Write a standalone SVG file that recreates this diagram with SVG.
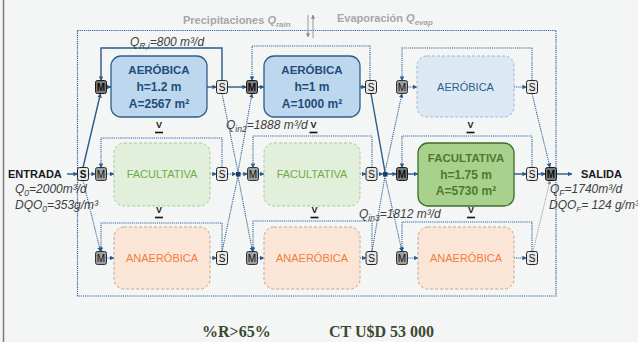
<svg xmlns="http://www.w3.org/2000/svg" width="638" height="342" viewBox="0 0 638 342">
<defs>
<marker id="a" viewBox="0 0 6 6" refX="5.5" refY="3" markerWidth="4.5" markerHeight="4.5" markerUnits="userSpaceOnUse" orient="auto"><path d="M0,0L6,3L0,6z" fill="#2a5a88"/></marker>
<marker id="g" viewBox="0 0 6 6" refX="5.5" refY="3" markerWidth="4" markerHeight="4" markerUnits="userSpaceOnUse" orient="auto"><path d="M0,0L6,3L0,6z" fill="#888"/></marker>
</defs>
<style>
text{font-family:"Liberation Sans",Arial,sans-serif}
.ser{font-family:"Liberation Serif","Times New Roman",serif;font-size:16px;font-weight:bold;fill:#3b4a2e}
.s{stroke:#2a5a88;stroke-width:1.4;fill:none}
.d{stroke:#36659a;stroke-width:1.1;stroke-dasharray:1.2 0.9;fill:none}
.gd{stroke:#999;stroke-width:1;stroke-dasharray:1.2 1;fill:none}
.aerA{fill:#bdd7ee;stroke:#2e5f8a;stroke-width:1.3}
.aerI{fill:#dde8f5;stroke:#9db8d5;stroke-width:1;stroke-dasharray:3 2}
.facA{fill:#a9d18e;stroke:#3d6b2a;stroke-width:1.3}
.facI{fill:#e2efda;stroke:#a9c99a;stroke-width:1;stroke-dasharray:3 2}
.ana{fill:#fbe5d6;stroke:#c9a48e;stroke-width:1;stroke-dasharray:3 2}
.tb{font-size:11.5px;font-weight:bold;text-anchor:middle}
.tb2{font-size:12px;font-weight:bold;text-anchor:middle}
.tn{font-size:11px;text-anchor:middle}
.mA{fill:#7a7a7a;stroke:#1a1a1a;stroke-width:1}
.mI{fill:#9e9e9e;stroke:#333;stroke-width:1}
.sb{fill:#e6e6e6;stroke:#262626;stroke-width:1}
.bt{font-size:10px;text-anchor:middle;fill:#111}
.mt{font-size:10px;font-weight:bold;text-anchor:middle;fill:#0d0d0d}
.lab{font-size:12px;font-style:italic;fill:#404040}
.v{font-size:9px;font-weight:bold;text-anchor:middle;fill:#222}
.ul{stroke:#111;stroke-width:1.6}
</style>
<rect x="0" y="0" width="638" height="342" fill="#f4f6f6"/>
<line x1="3.5" y1="0" x2="3.5" y2="342" stroke="#7a7a7a" stroke-width="1.5"/>
<rect x="77.5" y="30.5" width="478.5" height="265.5" fill="none" stroke="#36659a" stroke-width="1.2" stroke-dasharray="1.2 0.9"/>

<!-- top labels -->
<text x="183" y="24" font-size="11" font-weight="bold" fill="#a6a6a6">Precipitaciones <tspan font-style="italic">Q</tspan><tspan font-style="italic" font-size="8" dy="2.5">rain</tspan></text>
<text x="337" y="22" font-size="11" font-weight="bold" fill="#a6a6a6">Evaporación <tspan font-style="italic">Q</tspan><tspan font-style="italic" font-size="8" dy="2.5">evap</tspan></text>
<g id="rain-evap">
<line x1="308" y1="15" x2="308" y2="37" stroke="#999" stroke-width="1" marker-end="url(#g)"/>
<line x1="313" y1="38" x2="313" y2="15" stroke="#999" stroke-width="1" marker-end="url(#g)"/>
</g>

<!-- connectors -->
<g id="connectors">
<line class="s" x1="67" y1="174" x2="77.5" y2="174" marker-end="url(#a)"/>
<line class="s" x1="83" y1="167.5" x2="100.5" y2="93.5" marker-end="url(#a)"/>
<line class="s" x1="106.5" y1="87" x2="111" y2="87" marker-end="url(#a)"/>
<line class="s" x1="207" y1="87" x2="216.5" y2="87" marker-end="url(#a)"/>
<path class="s" d="M222,80.5V48H101V80.5" marker-end="url(#a)"/>
<line class="s" x1="227.5" y1="87" x2="246.5" y2="87" marker-end="url(#a)"/>
<line class="s" x1="257.5" y1="87" x2="264" y2="87" marker-end="url(#a)"/>
<line class="s" x1="360" y1="87" x2="365.5" y2="87" marker-end="url(#a)"/>
<line class="s" x1="371" y1="93.5" x2="385" y2="172"/>
<line class="s" x1="387" y1="174" x2="396.5" y2="174" marker-end="url(#a)"/>
<line class="s" x1="407.5" y1="174" x2="418" y2="174" marker-end="url(#a)"/>
<line class="s" x1="514" y1="174" x2="526.5" y2="174" marker-end="url(#a)"/>
<line class="s" x1="537.5" y1="174" x2="545.5" y2="174" marker-end="url(#a)"/>
<line class="s" x1="556.5" y1="174" x2="572" y2="174" marker-end="url(#a)"/>
<line class="d" x1="88.5" y1="174" x2="95.5" y2="174" marker-end="url(#a)"/>
<line class="d" x1="106.5" y1="174" x2="114" y2="174" marker-end="url(#a)"/>
<line class="d" x1="210" y1="174" x2="216.5" y2="174" marker-end="url(#a)"/>
<line class="d" x1="227.5" y1="174" x2="236" y2="174" marker-end="url(#a)"/>
<line class="d" x1="240" y1="174" x2="247.5" y2="174" marker-end="url(#a)"/>
<line class="d" x1="258.5" y1="174" x2="264" y2="174" marker-end="url(#a)"/>
<line class="d" x1="360" y1="174" x2="366" y2="174" marker-end="url(#a)"/>
<line class="d" x1="377" y1="174" x2="383" y2="174" marker-end="url(#a)"/>
<line class="d" x1="83" y1="180.5" x2="100.5" y2="251.5" marker-end="url(#a)"/>
<line class="d" x1="106.5" y1="258" x2="114" y2="258" marker-end="url(#a)"/>
<line class="d" x1="210" y1="258" x2="216.5" y2="258" marker-end="url(#a)"/>
<line class="d" x1="257.5" y1="258" x2="264" y2="258" marker-end="url(#a)"/>
<line class="d" x1="360" y1="258" x2="366" y2="258" marker-end="url(#a)"/>
<line class="d" x1="407.5" y1="258" x2="418" y2="258" marker-end="url(#a)"/>
<line class="d" x1="514" y1="258" x2="526.5" y2="258" marker-end="url(#a)"/>
<line class="d" x1="407.5" y1="87" x2="417" y2="87" marker-end="url(#a)"/>
<line class="d" x1="514" y1="87" x2="526.5" y2="87" marker-end="url(#a)"/>
<path class="d" d="M370,80.5V46H252V80.5" marker-end="url(#a)"/>
<path class="d" d="M532,80.5V48H402V80.5" marker-end="url(#a)"/>
<path class="d" d="M222,167.5V138H101V167.5" marker-end="url(#a)"/>
<path class="d" d="M372,167.5V136H253V167.5" marker-end="url(#a)"/>
<path class="d" d="M532,167.5V136H402V167.5" marker-end="url(#a)"/>
<path class="d" d="M222,251.5V223H101V251.5" marker-end="url(#a)"/>
<path class="d" d="M372,251.5V221H253V251.5" marker-end="url(#a)"/>
<path class="d" d="M532,251.5V222H402V251.5" marker-end="url(#a)"/>
<line class="d" x1="222" y1="93.5" x2="238" y2="172"/>
<line class="d" x1="238" y1="172" x2="252" y2="93.5" marker-end="url(#a)"/>
<line class="d" x1="222" y1="251.5" x2="238" y2="176"/>
<line class="d" x1="238" y1="176" x2="252.5" y2="251.5" marker-end="url(#a)"/>
<line class="d" x1="385" y1="172" x2="402" y2="93.5" marker-end="url(#a)"/>
<line class="d" x1="372" y1="251.5" x2="385" y2="176"/>
<line class="d" x1="385" y1="176" x2="402" y2="251.5" marker-end="url(#a)"/>
<line class="d" x1="532" y1="93.5" x2="550" y2="167.5" marker-end="url(#a)"/>
<line class="gd" x1="533" y1="251.5" x2="550" y2="180.5" marker-end="url(#g)"/>
<rect x="236" y="172" width="4.5" height="4.5" fill="#1f3f60"/>
<rect x="383" y="172" width="4.5" height="4.5" fill="#1f3f60"/>
</g>

<!-- reactors -->
<g id="aer1"><rect class="aerA" x="111" y="56" width="96" height="61" rx="10"/>
<text class="tb" x="159" y="74" fill="#1f4e79">AERÓBICA</text><text class="tb2" x="159" y="91" fill="#1f4e79">h=1.2 m</text><text class="tb2" x="159" y="108" fill="#1f4e79">A=2567 m²</text></g>
<g id="aer2"><rect class="aerA" x="264" y="56" width="96" height="61" rx="10"/>
<text class="tb" x="312" y="74" fill="#1f4e79">AERÓBICA</text><text class="tb2" x="312" y="91" fill="#1f4e79">h=1 m</text><text class="tb2" x="312" y="108" fill="#1f4e79">A=1000 m²</text></g>
<g id="aer3"><rect class="aerI" x="417" y="56" width="97" height="61" rx="10"/>
<text class="tn" x="465.5" y="90.5" fill="#2e5f8a">AERÓBICA</text></g>

<g id="fac1"><rect class="facI" x="114" y="143" width="96" height="63" rx="10"/>
<text class="tn" x="162" y="178" fill="#70ad47">FACULTATIVA</text></g>
<g id="fac2"><rect class="facI" x="264" y="143" width="96" height="63" rx="10"/>
<text class="tn" x="312" y="178" fill="#70ad47">FACULTATIVA</text></g>
<g id="fac3"><rect class="facA" x="418" y="143" width="96" height="63" rx="10"/>
<text class="tb" x="466" y="162" fill="#4f7a2d">FACULTATIVA</text><text class="tb2" x="466" y="178.5" fill="#4f7a2d">h=1.75 m</text><text class="tb2" x="466" y="195" fill="#4f7a2d">A=5730 m²</text></g>

<g id="ana1"><rect class="ana" x="114" y="227" width="96" height="62" rx="10"/>
<text class="tn" x="162" y="262" fill="#f07f3c">ANAERÓBICA</text></g>
<g id="ana2"><rect class="ana" x="264" y="227" width="96" height="62" rx="10"/>
<text class="tn" x="312" y="262" fill="#f07f3c">ANAERÓBICA</text></g>
<g id="ana3"><rect class="ana" x="418" y="227" width="96" height="62" rx="10"/>
<text class="tn" x="466" y="262" fill="#f07f3c">ANAERÓBICA</text></g>

<!-- mixers / splitters -->
<g id="M-r1c1"><rect class="mA" x="95.5" y="80.5" width="11" height="13" rx="2"/><text class="mt" x="101" y="91">M</text></g>
<g id="S-r1c1"><rect class="sb" x="216.5" y="80.5" width="11" height="13" rx="2"/><text class="bt" x="222" y="91">S</text></g>
<g id="M-r1c2"><rect class="mA" x="246.5" y="80.5" width="11" height="13" rx="2"/><text class="mt" x="252" y="91">M</text></g>
<g id="S-r1c2"><rect class="sb" x="365.5" y="80.5" width="11" height="13" rx="2"/><text class="bt" x="371" y="91">S</text></g>
<g id="M-r1c3"><rect class="mI" x="396.5" y="80.5" width="11" height="13" rx="2"/><text class="bt" x="402" y="91">M</text></g>
<g id="S-r1c3"><rect class="sb" x="526.5" y="80.5" width="11" height="13" rx="2"/><text class="bt" x="532" y="91">S</text></g>

<g id="S-in"><rect class="sb" x="77.5" y="167.5" width="11" height="13" rx="2"/><text class="bt" x="83" y="178" font-weight="bold">S</text></g>
<g id="M-r2c1"><rect class="mI" x="95.5" y="167.5" width="11" height="13" rx="2"/><text class="bt" x="101" y="178">M</text></g>
<g id="S-r2c1"><rect class="sb" x="216.5" y="167.5" width="11" height="13" rx="2"/><text class="bt" x="222" y="178">S</text></g>
<g id="M-r2c2"><rect class="mI" x="247.5" y="167.5" width="11" height="13" rx="2"/><text class="bt" x="253" y="178">M</text></g>
<g id="S-r2c2"><rect class="sb" x="366" y="167.5" width="11" height="13" rx="2"/><text class="bt" x="371.5" y="178">S</text></g>
<g id="M-r2c3"><rect class="mA" x="396.5" y="167.5" width="11" height="13" rx="2"/><text class="mt" x="402" y="178">M</text></g>
<g id="S-r2c3"><rect class="sb" x="526.5" y="167.5" width="11" height="13" rx="2"/><text class="bt" x="532" y="178">S</text></g>
<g id="M-out"><rect class="mA" x="545.5" y="167.5" width="11" height="13" rx="2"/><text class="mt" x="551" y="178">M</text></g>

<g id="M-r3c1"><rect class="mI" x="95.5" y="251.5" width="11" height="13" rx="2"/><text class="bt" x="101" y="262">M</text></g>
<g id="S-r3c1"><rect class="sb" x="216.5" y="251.5" width="11" height="13" rx="2"/><text class="bt" x="222" y="262">S</text></g>
<g id="M-r3c2"><rect class="mI" x="246.5" y="251.5" width="11" height="13" rx="2"/><text class="bt" x="252" y="262">M</text></g>
<g id="S-r3c2"><rect class="sb" x="366" y="251.5" width="11" height="13" rx="2"/><text class="bt" x="371.5" y="262">S</text></g>
<g id="M-r3c3"><rect class="mI" x="396.5" y="251.5" width="11" height="13" rx="2"/><text class="bt" x="402" y="262">M</text></g>
<g id="S-r3c3"><rect class="sb" x="526.5" y="251.5" width="11" height="13" rx="2"/><text class="bt" x="532" y="262">S</text></g>

<!-- water level symbols -->
<g id="levels">
<text class="v" x="159" y="128">V</text><line class="ul" x1="155" y1="132.5" x2="163" y2="132.5"/>
<text class="v" x="313.5" y="128">V</text><line class="ul" x1="309.5" y1="132.5" x2="317.5" y2="132.5"/>
<text class="v" x="470.5" y="128">V</text><line class="ul" x1="466.5" y1="132.5" x2="474.5" y2="132.5"/>
<text class="v" x="159" y="213">V</text><line class="ul" x1="155" y1="217.5" x2="163" y2="217.5"/>
<text class="v" x="314.5" y="213">V</text><line class="ul" x1="310.5" y1="217.5" x2="318.5" y2="217.5"/>
<text class="v" x="471" y="213">V</text><line class="ul" x1="467" y1="217.5" x2="475" y2="217.5"/>
</g>

<!-- labels -->
<text class="lab" x="130" y="46">Q<tspan font-size="8.5" dy="2.5">R,i</tspan><tspan dy="-2.5">=800 m³/d</tspan></text>
<text class="lab" x="226" y="129">Q<tspan font-size="8.5" dy="2.5">in2</tspan><tspan dy="-2.5">=1888 m³/d</tspan></text>
<text class="lab" x="359" y="218">Q<tspan font-size="8.5" dy="2.5">in3</tspan><tspan dy="-2.5">=1812 m³/d</tspan></text>
<text x="8" y="178" font-size="11" font-weight="bold" fill="#1a1a1a">ENTRADA</text>
<text class="lab" x="15" y="193">Q<tspan font-size="8.5" dy="2.5">0</tspan><tspan dy="-2.5">=2000m³/d</tspan></text>
<text class="lab" x="15" y="209">DQO<tspan font-size="8.5" dy="2.5">0</tspan><tspan dy="-2.5">=353g/m³</tspan></text>
<text x="581" y="178" font-size="11" font-weight="bold" fill="#1a1a1a">SALIDA</text>
<text class="lab" x="550" y="193">Q<tspan font-size="8.5" dy="2.5">F</tspan><tspan dy="-2.5">=1740m³/d</tspan></text>
<text class="lab" x="549" y="209" font-size="11.5">DQO<tspan font-size="8" dy="2.5">F</tspan><tspan dy="-2.5">= 124 g/m³</tspan></text>
<text class="ser" x="202" y="337">%R&gt;65%</text>
<text class="ser" x="329" y="337">CT U$D 53 000</text>
</svg>
